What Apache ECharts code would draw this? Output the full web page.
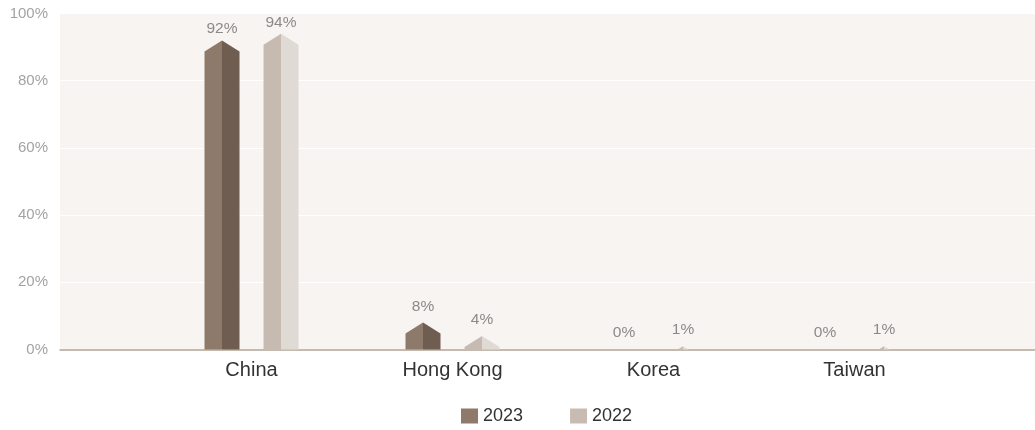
<!DOCTYPE html>
<html>
<head>
<meta charset="utf-8">
<script src="https://cdn.jsdelivr.net/npm/echarts@6/dist/echarts.min.js"></script>
<style>
html,body{margin:0;padding:0;background:#fff;}
#chart{width:1035px;height:430px;}
</style>
</head>
<body>
<div id="chart"></div>
<script>
const categories = ['China', 'Hong Kong', 'Korea', 'Taiwan'];
const values2023 = [92, 8, 0, 0];
const values2022 = [94, 4, 1, 1];
const yTicks = [0, 20, 40, 60, 80, 100];
const seriesNames = ['2023', '2022'];

const FONT = 'Liberation Sans, Arial, Helvetica, sans-serif';
const faces = {
  '2023': { left: '#8e7a6a', right: '#6e5d50' },
  '2022': { left: '#c7bbb1', right: '#e0dad5' }
};

function makeRender(name, offset) {
  return function (params, api) {
    const cat = api.value(0);
    const v = api.value(1);
    const top = api.coord([cat, v]);
    const base = api.coord([cat, 0]);
    const xc = top[0] + offset;
    const yA = top[1];
    const yB = base[1];
    const w = 17.5, p = 11;
    const children = [];
    const h = yB - yA;
    if (h > 0.01) {
      let leftPts, rightPts;
      if (h >= p) {
        leftPts = [[xc - w, yA + p], [xc, yA], [xc, yB], [xc - w, yB]];
        rightPts = [[xc, yA], [xc + w, yA + p], [xc + w, yB], [xc, yB]];
      } else {
        const t = h / p;
        leftPts = [[xc, yA], [xc, yB], [xc - w * t, yB]];
        rightPts = [[xc, yA], [xc + w * t, yB], [xc, yB]];
      }
      children.push({ type: 'polygon', shape: { points: leftPts }, style: { fill: faces[name].left } });
      children.push({ type: 'polygon', shape: { points: rightPts }, style: { fill: faces[name].right } });
    }
    const gap = 16.5 - 0.058 * v;
    children.push({
      type: 'text',
      style: {
        x: xc, y: yA - gap,
        text: v + '%',
        align: 'center', verticalAlign: 'middle',
        fill: '#8a8a8a', font: '15.5px ' + FONT
      }
    });
    return { type: 'group', children: children };
  };
}

const chart = echarts.init(document.getElementById('chart'), null, { renderer: 'canvas' });
const option = {
  animation: false,
  textStyle: { fontFamily: FONT },
  grid: [
    { left: 60, right: 0, top: 13.5, bottom: 80.5, show: true, backgroundColor: '#f8f4f2', borderWidth: 0 },
    { left: 151, right: 80, top: 13.5, bottom: 80.5 }
  ],
  legend: {
    data: seriesNames,
    left: 461, top: 407, padding: 0,
    itemWidth: 17, itemHeight: 15, itemGap: 47,
    icon: 'rect',
    textStyle: { fontSize: 18, color: '#333', fontFamily: FONT }
  },
  xAxis: [
    { type: 'category', gridIndex: 0, data: categories, axisLine: { show: true, lineStyle: { color: '#b3a497', width: 1.5 } }, axisTick: { show: false }, axisLabel: { show: false }, splitLine: { show: false } },
    { type: 'category', gridIndex: 1, data: categories, axisLine: { show: false }, axisTick: { show: false },
      axisLabel: { fontSize: 20, color: '#333', margin: 11, fontFamily: FONT } }
  ],
  yAxis: [
    { type: 'value', gridIndex: 0, min: yTicks[0], max: yTicks[yTicks.length - 1], interval: 20,
      axisLine: { show: false }, axisTick: { show: false },
      axisLabel: { formatter: '{value}%', fontSize: 15, color: '#a3a3a3', margin: 12, fontFamily: FONT },
      splitLine: { show: true, lineStyle: { color: '#ffffff', width: 1 } } },
    { type: 'value', gridIndex: 1, min: 0, max: 100, show: false, splitLine: { show: false } }
  ],
  series: [
    { name: '2023', type: 'custom', xAxisIndex: 1, yAxisIndex: 1,
      itemStyle: { color: '#8e7a6a' },
      renderItem: makeRender('2023', -29.5),
      data: values2023.map((v, i) => [i, v]) },
    { name: '2022', type: 'custom', xAxisIndex: 1, yAxisIndex: 1,
      itemStyle: { color: '#c8bcb2' },
      renderItem: makeRender('2022', 29.5),
      data: values2022.map((v, i) => [i, v]) }
  ]
};
chart.setOption(option);
</script>
</body>
</html>
